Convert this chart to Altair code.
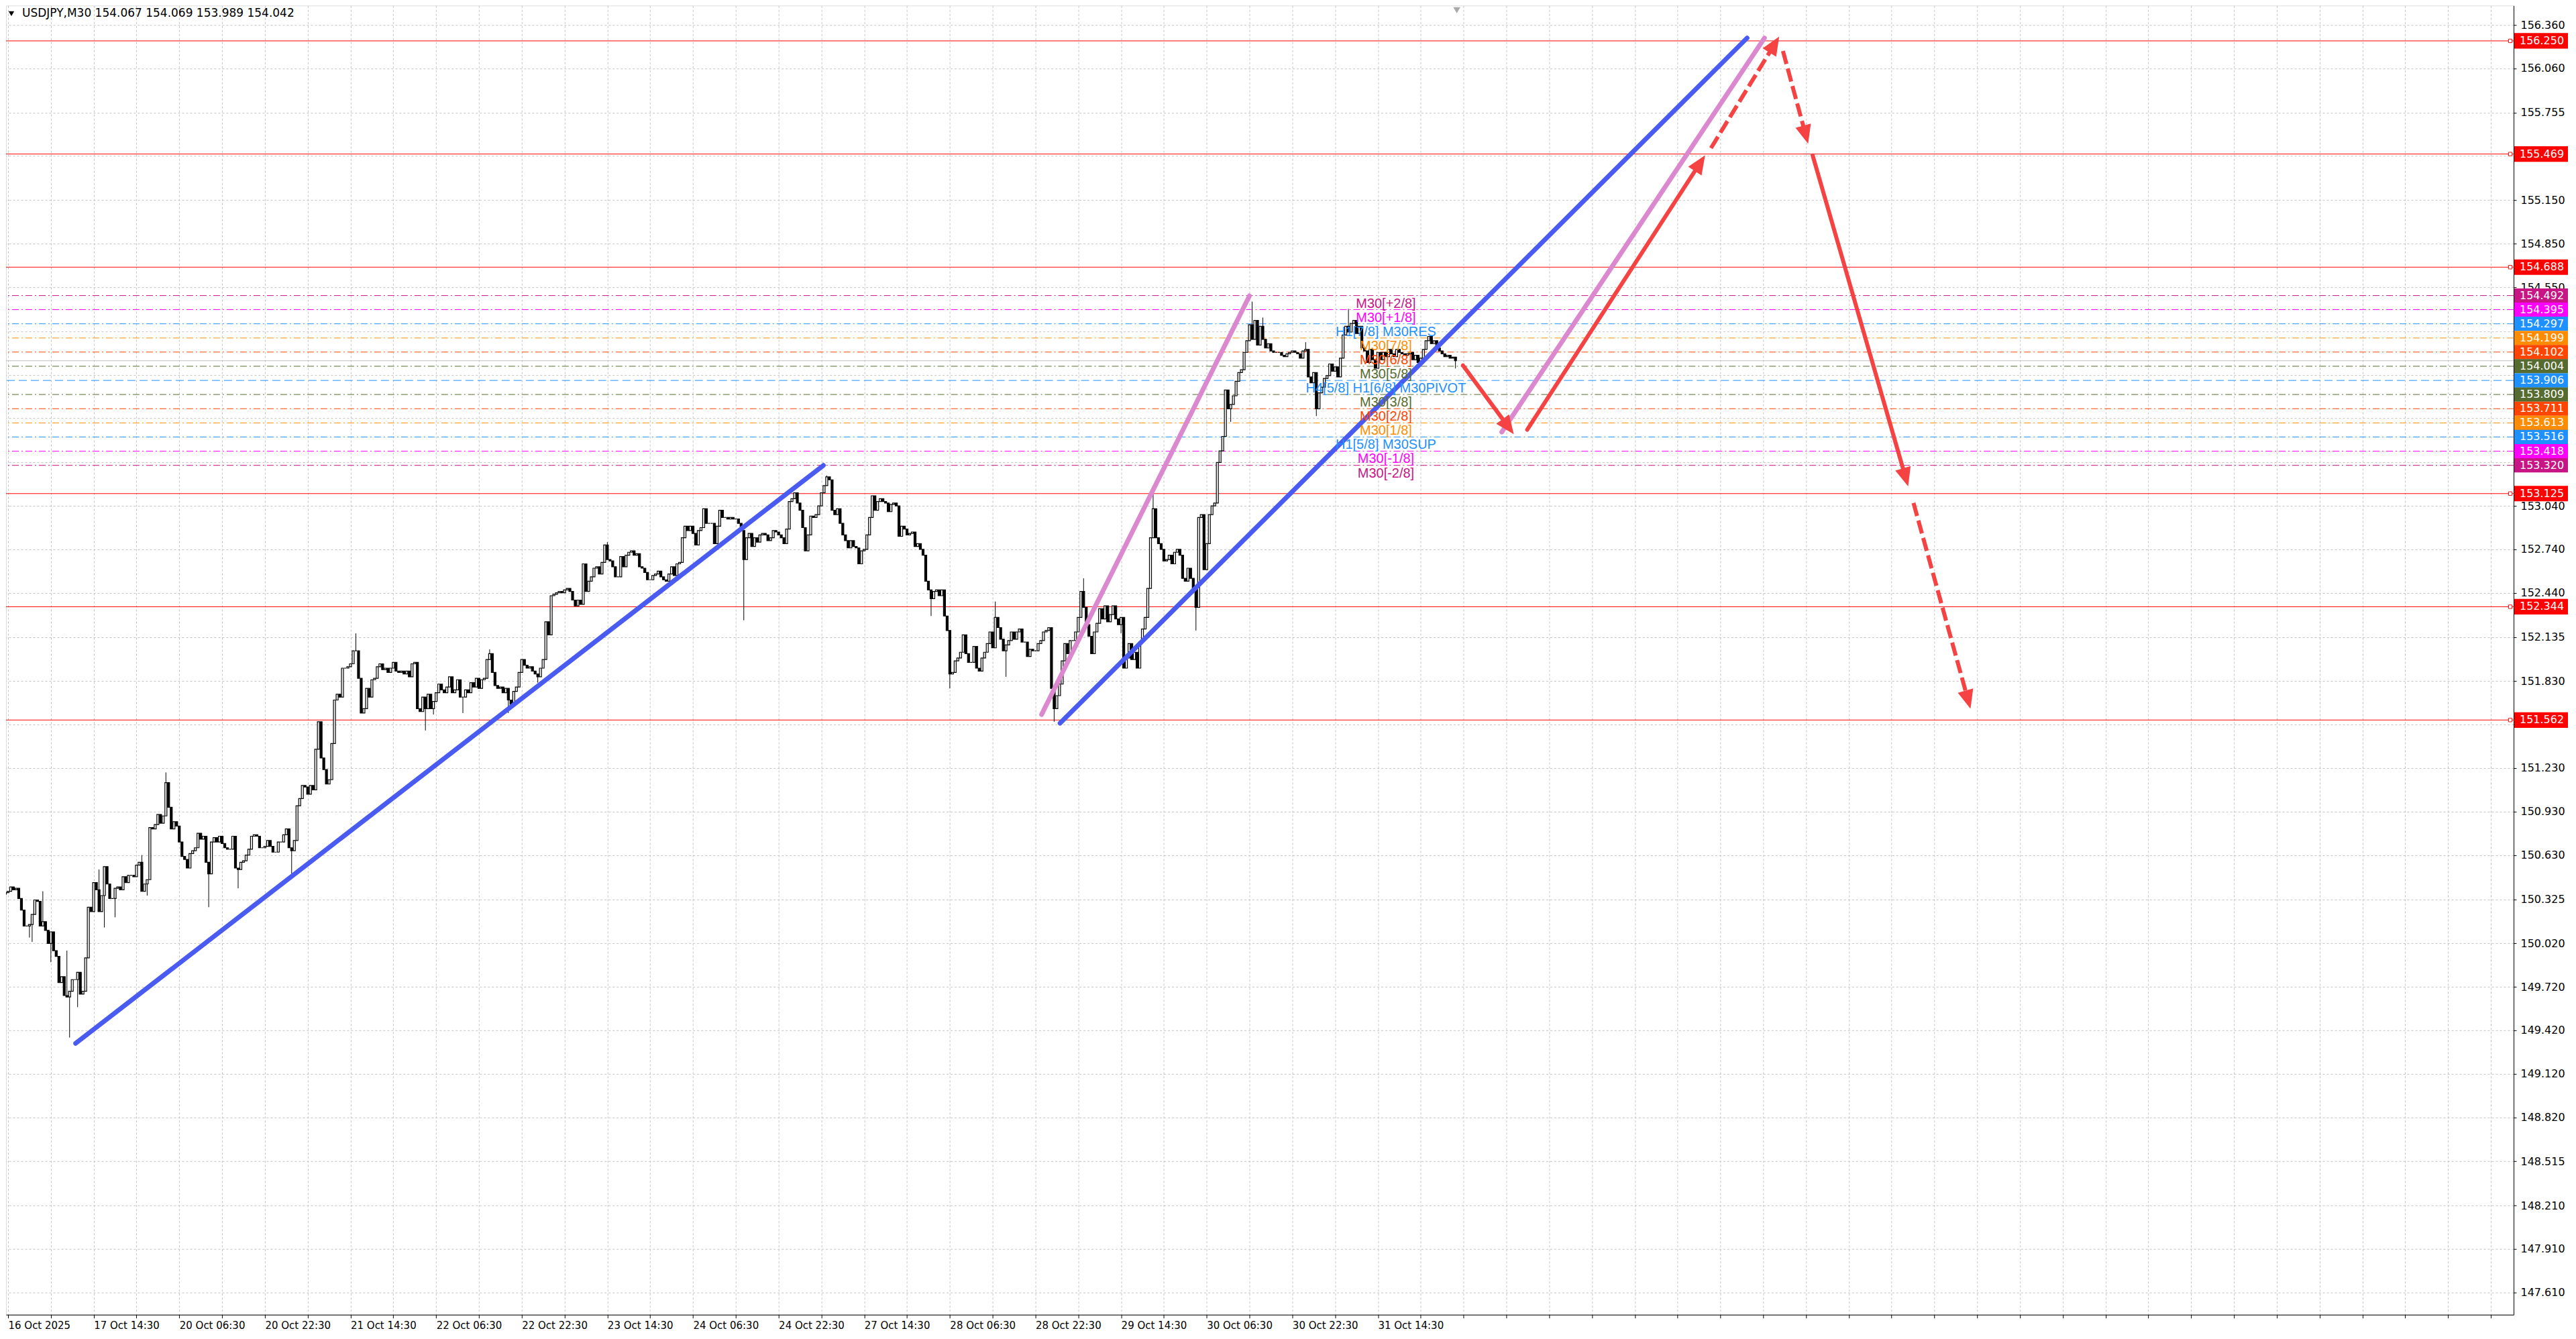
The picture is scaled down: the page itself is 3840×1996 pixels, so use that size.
import math

import altair as alt
import pandas as pd

# USDJPY M30, one close per bar (bar 0 = left edge)
first_open = 150.36
closes = [
    150.37, 150.38, 150.41, 150.39, 150.40, 150.33, 150.25, 150.14, 150.14, 150.15, 150.22, 150.32, 150.31, 150.14, 150.17, 150.11,
    150.02, 150.10, 149.97, 149.93, 149.75, 149.79, 149.66, 149.65, 149.69, 149.77, 149.77, 149.82, 149.67, 149.69, 149.92, 150.27,
    150.24, 150.44, 150.39, 150.24, 150.35, 150.55, 150.43, 150.33, 150.33, 150.40, 150.41, 150.39, 150.48, 150.44, 150.49, 150.49,
    150.48, 150.56, 150.58, 150.38, 150.43, 150.46, 150.82, 150.81, 150.84, 150.91, 150.85, 150.90, 151.13, 150.96, 150.81, 150.86,
    150.83, 150.72, 150.62, 150.60, 150.54, 150.64, 150.66, 150.68, 150.78, 150.74, 150.76, 150.58, 150.50, 150.72, 150.75, 150.72,
    150.76, 150.71, 150.68, 150.67, 150.67, 150.76, 150.54, 150.53, 150.58, 150.59, 150.63, 150.67, 150.76, 150.77, 150.76, 150.68,
    150.68, 150.69, 150.73, 150.69, 150.65, 150.65, 150.72, 150.72, 150.77, 150.81, 150.68, 150.66, 150.73, 150.97, 151.02, 151.11,
    151.10, 151.05, 151.11, 151.08, 151.36, 151.55, 151.30, 151.22, 151.12, 151.15, 151.40, 151.70, 151.74, 151.72, 151.92, 151.92,
    151.93, 151.95, 152.04, 152.04, 151.85, 151.61, 151.64, 151.78, 151.72, 151.84, 151.85, 151.93, 151.95, 151.91, 151.92, 151.89,
    151.92, 151.96, 151.90, 151.89, 151.90, 151.88, 151.90, 151.86, 151.95, 151.96, 151.64, 151.62, 151.72, 151.64, 151.74, 151.64,
    151.69, 151.75, 151.81, 151.77, 151.75, 151.79, 151.86, 151.75, 151.77, 151.84, 151.72, 151.72, 151.77, 151.75, 151.82, 151.79,
    151.85, 151.78, 151.84, 151.85, 151.98, 152.02, 151.89, 151.80, 151.78, 151.79, 151.75, 151.78, 151.70, 151.67, 151.76, 151.79,
    151.89, 151.98, 151.94, 151.92, 151.93, 151.90, 151.88, 151.86, 151.92, 151.98, 152.24, 152.15, 152.42, 152.43, 152.44, 152.45,
    152.44, 152.46, 152.47, 152.45, 152.39, 152.35, 152.39, 152.36, 152.64, 152.45, 152.52, 152.55, 152.61, 152.62, 152.57, 152.65,
    152.77, 152.67, 152.66, 152.62, 152.55, 152.55, 152.69, 152.62, 152.70, 152.72, 152.73, 152.70, 152.71, 152.62, 152.61, 152.58,
    152.53, 152.53, 152.56, 152.57, 152.59, 152.55, 152.53, 152.52, 152.57, 152.62, 152.56, 152.64, 152.65, 152.82, 152.90, 152.87,
    152.90, 152.85, 152.77, 152.87, 152.89, 153.02, 152.92, 152.92, 152.92, 152.78, 152.90, 153.01, 152.96, 152.96, 152.95, 152.96,
    152.95, 152.95, 152.92, 152.87, 152.67, 152.82, 152.85, 152.76, 152.82, 152.79, 152.84, 152.85, 152.84, 152.80, 152.82, 152.87,
    152.86, 152.84, 152.82, 152.78, 152.88, 153.07, 153.09, 153.13, 153.06, 153.01, 152.89, 152.73, 152.84, 152.97, 152.96, 152.98,
    153.04, 153.13, 153.18, 153.24, 153.22, 153.01, 152.98, 153.02, 152.92, 152.84, 152.80, 152.75, 152.80, 152.76, 152.75, 152.64,
    152.73, 152.74, 152.84, 152.96, 153.11, 153.01, 153.07, 153.09, 153.07, 153.06, 153.00, 153.05, 153.06, 153.04, 152.83, 152.90,
    152.88, 152.84, 152.85, 152.86, 152.76, 152.78, 152.74, 152.70, 152.52, 152.46, 152.40, 152.45, 152.46, 152.42, 152.46, 152.28,
    152.18, 151.88, 151.89, 151.97, 151.99, 152.03, 152.15, 152.02, 151.96, 151.96, 152.07, 151.92, 151.90, 151.99, 152.03, 152.09,
    152.17, 152.06, 152.27, 152.20, 152.12, 152.04, 152.08, 152.11, 152.17, 152.12, 152.17, 152.19, 152.10, 152.10, 152.00, 152.05,
    152.04, 152.04, 152.09, 152.11, 152.17, 152.18, 152.20, 151.78, 151.64, 151.73, 151.81, 151.97, 152.09, 152.02, 152.11, 152.11,
    152.17, 152.27, 152.45, 152.34, 152.22, 152.14, 152.02, 152.17, 152.23, 152.33, 152.26, 152.35, 152.24, 152.29, 152.35, 152.26,
    152.22, 152.27, 151.92, 151.99, 152.09, 151.98, 152.03, 151.92, 152.10, 152.19, 152.27, 152.47, 152.82, 153.02, 152.82, 152.78,
    152.74, 152.66, 152.67, 152.70, 152.64, 152.72, 152.74, 152.70, 152.54, 152.52, 152.61, 152.54, 152.46, 152.34, 152.96, 152.98,
    152.60, 152.78, 152.98, 153.04, 153.06, 153.34, 153.42, 153.52, 153.84, 153.71, 153.74, 153.80, 153.90, 153.96, 153.98, 154.10,
    154.18, 154.29, 154.19, 154.32, 154.15, 154.28, 154.19, 154.13, 154.16, 154.11, 154.10, 154.10, 154.10, 154.08, 154.07, 154.09,
    154.10, 154.11, 154.10, 154.09, 154.06, 154.11, 154.12, 153.93, 153.89, 153.96, 153.71, 153.82, 153.86, 153.92, 153.94, 154.02,
    153.97, 154.00, 153.93, 154.06, 154.22, 154.28, 154.24, 154.30, 154.32, 154.23, 154.28, 154.13, 154.11, 154.03, 154.12, 154.05,
    153.99, 154.10, 154.05, 154.10, 154.07, 154.12, 154.09, 154.07, 154.12, 154.10, 154.09, 154.08, 154.09, 154.10, 154.05, 154.08,
    154.03, 154.06, 154.12, 154.18, 154.21, 154.16, 154.18, 154.13, 154.11, 154.09, 154.07, 154.08, 154.06, 154.067,
    154.042,
]
# wicks that stick out clearly
wick_high = {14: 150.38, 23: 149.97, 35: 150.53, 51: 150.63, 60: 151.20, 131: 152.16, 181: 152.05,
             225: 152.79, 307: 153.25, 370: 152.38, 403: 152.54, 429: 153.14, 466: 154.45, 470: 154.34,
             486: 154.17, 502: 154.40, 542: 154.069}
wick_low = {9: 150.06, 10: 150.03, 17: 149.89, 24: 149.37, 27: 149.58, 37: 150.13, 41: 150.20,
            53: 150.35, 76: 150.27, 87: 150.40, 107: 150.50, 157: 151.49, 160: 151.60, 171: 151.61,
            188: 151.61, 199: 151.82, 276: 152.25, 346: 152.28, 353: 151.78, 374: 151.86, 392: 151.55,
            417: 152.16, 445: 152.18, 458: 153.62, 490: 153.66, 542: 153.989}

date_labels = ["16 Oct 2025", "17 Oct 14:30", "20 Oct 06:30", "20 Oct 22:30", "21 Oct 14:30",
               "22 Oct 06:30", "22 Oct 22:30", "23 Oct 14:30", "24 Oct 06:30", "24 Oct 22:30",
               "27 Oct 14:30", "28 Oct 06:30", "28 Oct 22:30", "29 Oct 14:30", "30 Oct 06:30",
               "30 Oct 22:30", "31 Oct 14:30"]
price_ticks = [156.360, 156.060, 155.755, 155.455, 155.150, 154.850, 154.550, 154.245, 153.945,
               153.645, 153.340, 153.040, 152.740, 152.440, 152.135, 151.830, 151.530, 151.230,
               150.930, 150.630, 150.325, 150.020, 149.720, 149.420, 149.120, 148.820, 148.515,
               148.210, 147.910, 147.610]
# grid levels whose labels sit under the level boxes
hidden_ticks = [155.455, 154.245, 153.945, 153.645, 153.340, 151.530]

red_levels = [156.250, 155.469, 154.688, 153.125, 152.344, 151.562]
mm_levels = [154.492, 154.395, 154.297, 154.199, 154.102, 154.004, 153.906,
             153.809, 153.711, 153.613, 153.516, 153.418, 153.320]
mm_names = ["M30[+2/8]", "M30[+1/8]", "H1[7/8] M30RES", "M30[7/8]", "M30[6/8]", "M30[5/8]",
            "H4[5/8] H1[6/8] M30PIVOT", "M30[3/8]", "M30[2/8]", "M30[1/8]", "H1[5/8] M30SUP",
            "M30[-1/8]", "M30[-2/8]"]
mm_colors = ["#C71585", "#FF00FF", "#1E90FF", "#FF8C00", "#FF4500", "#556B2F", "#1E90FF",
             "#556B2F", "#FF4500", "#FF8C00", "#1E90FF", "#FF00FF", "#C71585"]
mm_styles = ["dashdot"] * 6 + ["dash"] + ["dashdot"] * 6
current_price = 154.042

# drawn objects as (bar, price) -> (bar, price)
blue_lines = [(26.25, 149.33, 305.75, 153.32), (394.2, 151.54, 651.0, 156.27)]
pink_lines = [(387.3, 151.60, 465.0, 154.49), (559.3, 153.55, 657.5, 156.27)]
arrows = [  # start bar, start price, tip bar, tip price, dashed
    (544.8, 154.01, 563.8, 153.535, False),
    (568.8, 153.566, 635.3, 155.46, False),
    (637.5, 155.51, 663.0, 156.28, True),
    (664.4, 156.18, 673.8, 155.54, True),
    (675.5, 155.46, 711.2, 153.175, False),
    (713.2, 153.06, 734.5, 151.64, True),
]

# ---- layout ----
W, H = 3739, 1952
X0, X1 = 1.5, 936.25
Y0, Y1 = 147.457, 156.494
PX_BAR = W / (X1 - X0)
PX_PRICE = H / (Y1 - Y0)
RED = "#F54242"
BLUE = "#4A5BF2"
PINK = "#DB88CF"
GRID = "#C3C3C3"

opens = [first_open] + closes[:-1]
candles = pd.DataFrame({"bar": range(len(closes)), "open": opens, "close": closes})
candles["high"] = [max(wick_high.get(i, 0), o, c) for i, (o, c) in enumerate(zip(opens, closes))]
candles["low"] = [min(wick_low.get(i, 999), o, c) for i, (o, c) in enumerate(zip(opens, closes))]

labels_js = "[" + ",".join("'%s'" % s for s in date_labels) + "]"
hidden_js = "[" + ",".join("%.3f" % v for v in hidden_ticks) + "]"
x_axis = alt.Axis(values=list(range(1, 937, 16)), title=None,
                  labelExpr=f"(datum.value - 1) % 32 == 0 ? ({labels_js}[(datum.value - 1) / 32] || '') : ''",
                  labelAlign="left", labelFont="DejaVu Sans", labelFontSize=15, labelColor="black",
                  labelPadding=4, labelOverlap=False, labelFlush=False, tickSize=5, tickColor="black",
                  domainColor="black", grid=True, gridColor=GRID, gridDash=[3, 3])
y_axis = alt.Axis(values=price_ticks, title=None,
                  labelExpr=f"indexof({hidden_js}, datum.value) >= 0 ? '' : format(datum.value, '.3f')",
                  labelFont="DejaVu Sans", labelFontSize=16, labelColor="black", labelPadding=6,
                  orient="right", labelOverlap=False, labelFlush=False, tickSize=4, tickColor="black",
                  domainColor="black", grid=True, gridColor=GRID, gridDash=[3, 3])
xs = alt.Scale(domain=[X0, X1], nice=False, zero=False)
ys = alt.Scale(domain=[Y0, Y1], nice=False, zero=False)


def X(f):
    return alt.X(f, type="quantitative", scale=xs, axis=x_axis)


def Y(f):
    return alt.Y(f, type="quantitative", scale=ys, axis=y_axis)


mm_df = pd.DataFrame({"price": mm_levels, "name": mm_names, "style": mm_styles, "bar": 516})
red_df = pd.DataFrame({"price": red_levels})
mm_color = alt.Color("name:N", scale=alt.Scale(domain=mm_names, range=mm_colors), legend=None)

red_rules = alt.Chart(red_df).mark_rule(color="red", strokeWidth=1).encode(y=Y("price"))
cur_rule = alt.Chart(pd.DataFrame({"price": [current_price]})).mark_rule(
    color="#C0C0C0", strokeWidth=1).encode(y=Y("price"))
mm_rules = alt.Chart(mm_df).mark_rule(strokeWidth=1).encode(
    y=Y("price"), color=mm_color,
    strokeDash=alt.StrokeDash("style:N", scale=alt.Scale(domain=["dashdot", "dash"],
                                                          range=[[10, 4, 2, 4], [12, 6]]), legend=None))

wicks = alt.Chart(candles).mark_rule(color="black", strokeWidth=1, clip=True).encode(
    x=X("bar"), y=Y("low"), y2="high")
bodies = alt.Chart(candles).mark_bar(size=3, stroke="black", strokeWidth=1.2, clip=True).encode(
    x=X("bar"), y=Y("open"), y2="close",
    fill=alt.condition("datum.close >= datum.open", alt.value("white"), alt.value("black")))


def seg_df(rows):
    return pd.DataFrame(rows, columns=["x", "y", "x2", "y2"])


def seg_layer(df, color, width, dash=None):
    kw = dict(color=color, strokeWidth=width, strokeCap="butt" if dash else "round")
    if dash:
        kw["strokeDash"] = dash
    return alt.Chart(df).mark_rule(**kw).encode(x=X("x"), y=Y("y"), x2="x2", y2="y2")


# arrows: shaft stops inside the head, head drawn as a rotated path with its tip at the origin
solid_rows, dash_rows, heads = [], [], []
for sb, sp, tb, tp, dashed in arrows:
    dx, dy = (tb - sb) * PX_BAR, (tp - sp) * PX_PRICE
    f = 16 / math.hypot(dx, dy)
    row = (sb, sp, tb - f * (tb - sb), tp - f * (tp - sp))
    (dash_rows if dashed else solid_rows).append(row)
    heads.append({"bar": tb, "price": tp, "angle": math.degrees(math.atan2(dx, dy)) % 360})

head_layer = alt.Chart(pd.DataFrame(heads)).mark_point(
    shape="M0,0 L0.85,2 L-0.85,2 Z", filled=True, size=780, color=RED, opacity=1).encode(
    x=X("bar"), y=Y("price"), angle=alt.Angle("angle:Q", scale=None))

mm_text = alt.Chart(mm_df).mark_text(align="center", baseline="top", dy=2,
                                     font="Liberation Sans", fontSize=20).encode(
    x=X("bar"), y=Y("price"), text="name:N", color=mm_color)

BOX = "M-1,-0.265 L1,-0.265 L1,0.265 L-1,0.265 Z"
mm_boxes = alt.Chart(mm_df).mark_point(shape=BOX, filled=True, size=6400, opacity=1).encode(
    x=alt.value(W + 41), y=Y("price"), color=mm_color)
red_boxes = alt.Chart(red_df).mark_point(
    shape="M-1,-0.29 L1,-0.29 L1,0.29 L-1,0.29 Z", filled=True, size=6400, opacity=1, color="red").encode(
    x=alt.value(W + 41), y=Y("price"))
box_text = alt.Chart(pd.concat([mm_df[["price"]], red_df])).mark_text(
    align="left", baseline="middle", font="DejaVu Sans", fontSize=16, color="white").encode(
    x=alt.value(W + 9), y=Y("price"), text=alt.Text("price:Q", format=".3f"))
end_marks = alt.Chart(red_df).mark_point(shape="square", size=28, filled=True, fill="white",
                                         stroke="red", strokeWidth=1, opacity=1).encode(
    x=alt.value(W - 5), y=Y("price"))

last = candles.iloc[-1]
title_text = "USDJPY,M30  %.3f %.3f %.3f %.3f" % (last["open"], last["high"], last["low"], last["close"])
title = alt.Chart(pd.DataFrame({"t": [title_text]})).mark_text(
    align="left", baseline="middle", font="DejaVu Sans", fontSize=17, color="black").encode(
    x=alt.value(24), y=alt.value(12), text="t:N")
title_arrow = alt.Chart(pd.DataFrame({"t": [0]})).mark_point(
    shape="triangle-down", filled=True, size=70, color="black", opacity=1).encode(
    x=alt.value(8), y=alt.value(12))
shift_mark = alt.Chart(pd.DataFrame({"bar": [len(closes) - 0.5]})).mark_point(
    shape="triangle-down", filled=True, size=110, color="#A9A9A9", opacity=1).encode(
    x=X("bar"), y=alt.value(7))

chart = alt.layer(
    red_rules, mm_rules, cur_rule, wicks, bodies,
    seg_layer(seg_df(blue_lines), BLUE, 7),
    seg_layer(seg_df(pink_lines), PINK, 7),
    seg_layer(seg_df(solid_rows), RED, 6),
    seg_layer(seg_df(dash_rows), RED, 6, [20, 7]),
    head_layer, mm_text, end_marks, red_boxes, mm_boxes, box_text,
    title, title_arrow, shift_mark,
).properties(
    width=W, height=H, padding={"left": 0, "top": 0, "right": 4, "bottom": 4}
).configure_view(stroke="black", strokeWidth=1).configure(background="white")

chart.save("out.html", embed_options={"renderer": "svg", "actions": False})
